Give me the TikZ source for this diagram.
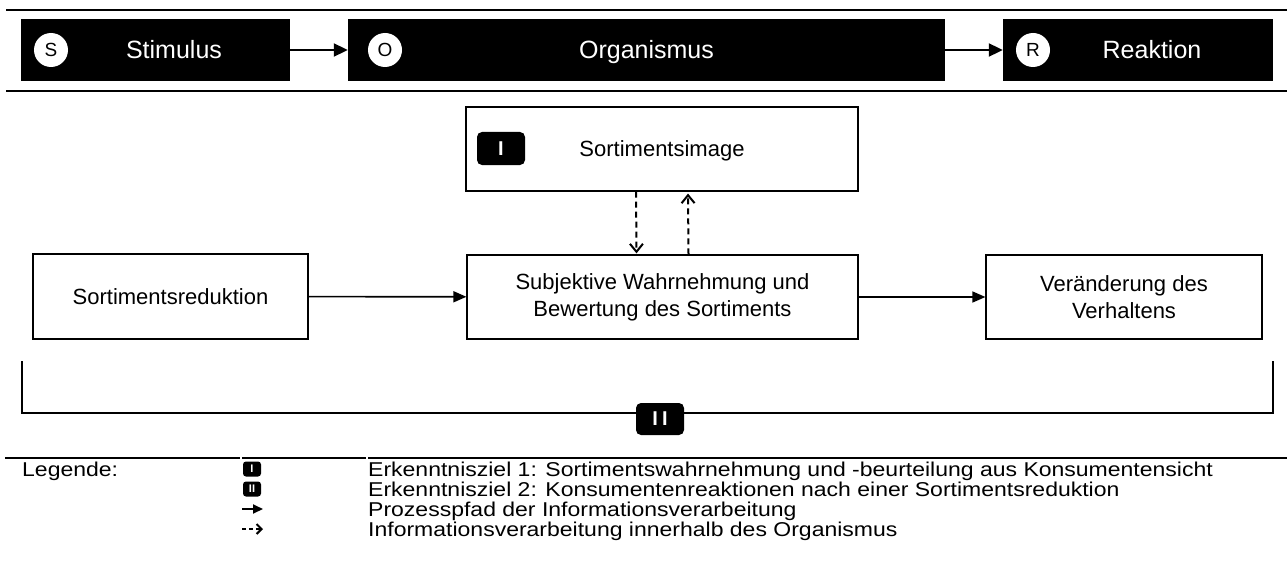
\documentclass[tikz,border=0pt]{standalone}
\usepackage{fontspec}
\setmainfont{Liberation Sans}
\newfontfamily\legfont[FakeStretch=1.15]{Liberation Sans}
\usetikzlibrary{arrows.meta}
\begin{document}
\begin{tikzpicture}[x=1pt,y=-1pt,
  band/.style={fill=black,draw=none,inner sep=0,minimum height=62pt},
  bandtext/.style={text=white,font=\fontsize{25}{30}\selectfont,inner sep=0,anchor=base},
  letter/.style={circle,fill=white,inner sep=0,minimum size=34pt},
  lettertext/.style={inner sep=0,anchor=base,font=\fontsize{19}{22}\selectfont},
  box/.style={draw=black,line width=1.2pt,inner sep=0,align=center,font=\fontsize{22}{27}\selectfont},
  boxtext/.style={inner sep=0,anchor=base,font=\fontsize{22}{27}\selectfont},
  badge/.style={fill=black,rounded corners=5pt,text=white,inner sep=0,font=\bfseries\fontsize{20}{24}\selectfont},
  proc/.style={line width=1.6pt,-{Triangle[length=13pt,width=11pt]}},
  info/.style={line width=2pt,dash pattern=on 6pt off 4pt,-{Straight Barb[length=8pt,width=13pt]}},
  rulel/.style={line width=2pt},
  legtext/.style={anchor=base west,inner sep=0,font=\legfont\fontsize{20}{24}\selectfont}
]
\useasboundingbox (0,0) rectangle (1287,567);

% top band
\draw[rulel] (6,10) -- (1287,10);
\draw[rulel] (6,91) -- (1287,91);
\node[band,minimum width=269pt] (stim) at (155.5,50) {};
\node[band,minimum width=597pt] (org) at (646.5,50) {};
\node[band,minimum width=270pt] (reak) at (1138,50) {};
\node[letter] (s) at (51,50) {};
\node[letter] (o) at (385,50) {};
\node[letter] (r) at (1033,50) {};
\node[lettertext] (st) at (51,57) {S};
\node[lettertext] (ot) at (385,57) {O};
\node[lettertext] (rt) at (1033,57) {R};
\node[bandtext] (stimt) at (174,59) {Stimulus};
\node[bandtext] (orgt) at (646.5,59) {Organismus};
\node[bandtext] (reakt) at (1152,59) {Reaktion};
\draw[proc,line width=2pt,-{Triangle[length=14pt,width=13pt]}] (stim) -- (org);
\draw[proc,line width=2pt,-{Triangle[length=14pt,width=13pt]}] (org) -- (reak);

% middle
\node[box,minimum width=392pt,minimum height=84pt] (img) at (662,149) {};
\node[boxtext] (imgt) at (662,157) {Sortimentsimage};
\node[badge,minimum width=48pt,minimum height=33pt] (one) at (501,148.5) {I};
\node[box,minimum width=275pt,minimum height=85pt] (red) at (170.5,296.5) {Sortimentsreduktion};
\node[box,minimum width=391pt,minimum height=84pt] (subj) at (662.5,297) {Subjektive Wahrnehmung und\\Bewertung des Sortiments};
\node[box,minimum width=276pt,minimum height=84pt] (ver) at (1124,297) {Veränderung des\\Verhaltens};
\draw[proc] (red) -- (subj);
\draw[proc] (subj) -- (ver);
\draw[info] ([xshift=-26pt]img.south) -- ([xshift=-26pt,yshift=1pt]subj.north);
\draw[info] ([xshift=26pt]subj.north) -- ([xshift=26pt,yshift=-2pt]img.south);

% bracket
\coordinate (bl) at (22,361);
\coordinate (br) at (1273,361);
\node[badge,minimum width=48pt,minimum height=32pt] (two) at (660,419) {I\kern4ptI};
\draw[line width=1.3pt] (bl) |- ([yshift=6pt]two.west);
\draw[line width=1.3pt] (br) |- ([yshift=6pt]two.east);

% legend
\draw[rulel] (5,458) -- (240,458);
\draw[rulel] (242,458) -- (366,458);
\draw[rulel] (368,458) -- (1287,458);
\node[legtext] (leg) at (22,476) {Legende:};
\node[badge,minimum width=18pt,minimum height=15pt,rounded corners=3pt,font=\bfseries\fontsize{11}{12}\selectfont] (lb1) at (252,469) {I};
\node[badge,minimum width=18pt,minimum height=15pt,rounded corners=3pt,font=\bfseries\fontsize{11}{12}\selectfont] (lb2) at (252,489) {II};
\coordinate (la1s) at (242,509);
\coordinate (la1e) at (263,509);
\draw[proc,line width=2pt,-{Triangle[length=10pt,width=9pt]}] (la1s) -- (la1e);
\coordinate (la2s) at (242,529);
\coordinate (la2e) at (263,529);
\draw[info,line width=2pt,dash pattern=on 4pt off 3pt,-{Straight Barb[length=5pt,width=10pt]}] (la2s) -- (la2e);
\node[legtext] (l1) at (368,476) {Erkenntnisziel 1: Sortimentswahrnehmung und -beurteilung aus Konsumentensicht};
\node[legtext] (l2) at (368,496) {Erkenntnisziel 2: Konsumentenreaktionen nach einer Sortimentsreduktion};
\node[legtext] (l3) at (368,516) {Prozesspfad der Informationsverarbeitung};
\node[legtext] (l4) at (368,536) {Informationsverarbeitung innerhalb des Organismus};
\end{tikzpicture}
\end{document}
